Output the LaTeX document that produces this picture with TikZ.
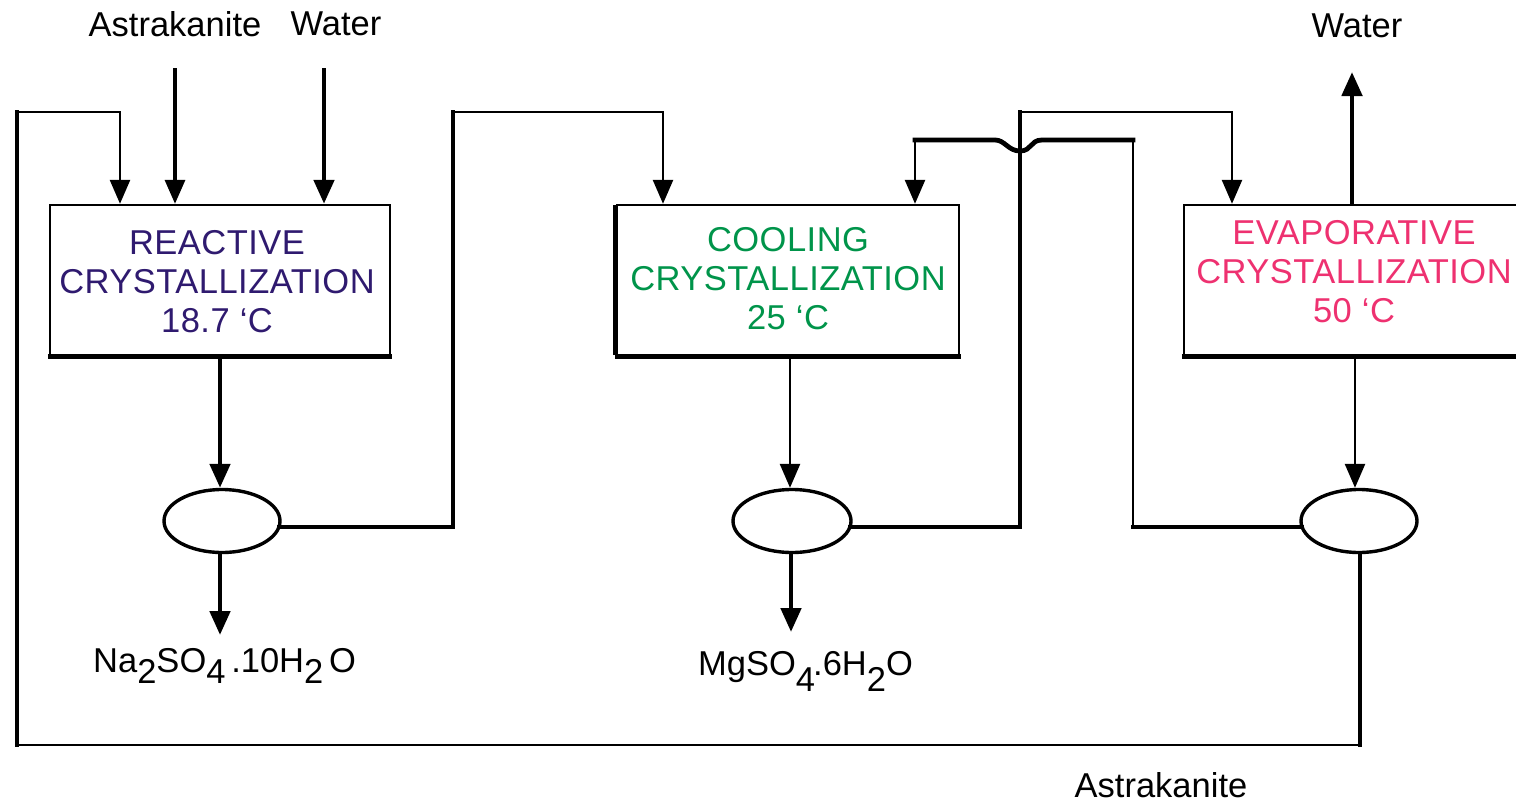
\documentclass[tikz,border=0pt]{standalone}
\usepackage{fontspec}
\setmainfont{Liberation Sans}
\usetikzlibrary{arrows.meta,shapes.geometric,calc}
\definecolor{reactc}{HTML}{2F1A6F}
\definecolor{coolc}{HTML}{00944A}
\definecolor{evapc}{HTML}{EE3170}
\newcommand{\mysub}[2]{\raisebox{-#1pt}{#2}}
\begin{document}
\begin{tikzpicture}[x=1pt,y=-1pt,
  every node/.style={font=\fontsize{34.5}{39}\selectfont},
  procbox/.style={draw,line width=2.4pt,rectangle,minimum width=340pt,minimum height=150pt,inner sep=0pt},
  boxtext/.style={align=center,inner sep=0pt,font=\fontsize{34.5}{39}\selectfont\addfontfeatures{LetterSpace=1.4}},
  sep/.style={draw,ellipse,line width=3.4pt,minimum width=116pt,minimum height=63pt,inner sep=0pt},
  thinline/.style={line width=2.6pt,line cap=rect},
  midline/.style={line width=3.4pt,line cap=rect},
  thickline/.style={line width=4.8pt,line cap=rect},
  arr/.style={-{Triangle[length=24pt,width=20pt]}},
  lbl/.style={inner sep=0pt}]
\useasboundingbox (0,0) rectangle (1516,803);

% boxes
\node[procbox] (b1) at (220,280) {};
\node[procbox,minimum width=342pt] (b2) at (788,280) {};
\node[procbox] (b3) at (1354,280) {};
\draw[thickline,line cap=butt] ([xshift=-1pt]b1.south west) -- ([xshift=1pt]b1.south east);
\draw[thickline,line cap=butt] ([xshift=-1pt]b2.south west) -- ([xshift=1pt]b2.south east);
\draw[thickline,line cap=butt] ([yshift=1pt]b2.south west) -- ([yshift=-1pt]b2.north west);
\draw[thickline,line cap=butt] ([xshift=-1pt]b3.south west) -- ([xshift=40pt]b3.south east);

\node[boxtext,text=reactc] (t1) at (217,281.5) {REACTIVE\\CRYSTALLIZATION\\18.7 ‘C};
\node[boxtext,text=coolc] (t2) at (788,279) {COOLING\\CRYSTALLIZATION\\25 ‘C};
\node[boxtext,text=evapc] (t3) at (1354,271.5) {EVAPORATIVE\\CRYSTALLIZATION\\50 ‘C};

% separators
\node[sep] (e1) at (222,521) {};
\node[sep,minimum width=118pt] (e2) at (792,521) {};
\node[sep] (e3) at (1359,521) {};

% labels
\node[lbl] (la1) at (175,24) {Astrakanite};
\node[lbl] (lw1) at (336,24) {Water};
\node[lbl] (lw2) at (1357,26) {Water};
\node[lbl] (la2) at (1161,785) {Astrakanite};
\node[lbl,anchor=base west] (pna) at (93,672) {Na\mysub{11}{2}SO\mysub{11}{4}\,.10H\mysub{11}{2}\,O};
\node[lbl,anchor=base west] (pmg) at (698,675) {MgSO\mysub{16}{4}\kern-2pt.6H\mysub{16}{2}O};

% coordinates
\coordinate (ain) at (175,70);
\coordinate (win) at (324,70);
\coordinate (wout) at (1352,72);
\coordinate (p1) at (453,527);
\coordinate (p2) at (453,112);
\coordinate (p3) at (663,112);
\coordinate (r1) at (1020,527);
\coordinate (r2) at (1020,112);
\coordinate (r3) at (1232,112);
\coordinate (q1) at (1133,527);
\coordinate (q2) at (1133,140);
\coordinate (h1) at (1042,140);
\coordinate (h2) at (995,140);
\coordinate (q3) at (915,140);
\coordinate (s1) at (1360,745);
\coordinate (s2) at (17,745);
\coordinate (s3) at (17,112);
\coordinate (s4) at (120,112);

% feeds
\draw[midline,arr] (ain) -- (b1.north -| ain);
\draw[thickline,arr] (win) -- (b1.north -| win);
\draw[thickline,arr] (b3.north -| wout) -- (wout);

% box -> separator -> product
\draw[thickline,arr] (b1.south -| 220,0) -- (e1.north -| 220,0);
\draw[thickline,arr] (e1.south -| 220,0) -- (220,635);
\draw[thinline,arr] (b2.south -| 790,0) -- (e2.north -| 790,0);
\draw[thickline,arr] (e2.south -| 791,0) -- (791,632);
\draw[thinline,arr] (b3.south -| 1355,0) -- (e3.north -| 1355,0);

% mother liquor 1 -> cooling
\draw[thickline] ([xshift=-2pt,yshift=-6pt]e1.east) -- (p1) -- (p2);
\draw[thinline,arr] (p2) -- (p3) -- (b2.north -| p3);

% mother liquor 2 -> evaporative
\draw[thickline] ([xshift=-2pt,yshift=-6pt]e2.east) -- (r1) -- (r2);
\draw[thinline,arr] (r2) -- (r3) -- (b3.north -| r3);

% mother liquor 3 -> cooling (with hop)
\draw[thickline] ([xshift=2pt,yshift=-6pt]e3.west) -- (q1);
\draw[thinline] (q1) -- (q2);
\draw[thickline] (q2) -- (h1) .. controls (1030,140) and (1032,151) .. (1020,151)
  .. controls (1008,151) and (1005,140) .. (h2) -- (q3);
\draw[thinline,arr] (q3) -- (b2.north -| q3);

% astrakanite recycle
\draw[thickline] (e3.south -| s1) -- (s1);
\draw[thinline] (s1) -- (s2);
\draw[midline] (s2) -- (s3);
\draw[thinline,arr] (s3) -- (s4) -- (b1.north -| s4);
\end{tikzpicture}
\end{document}
